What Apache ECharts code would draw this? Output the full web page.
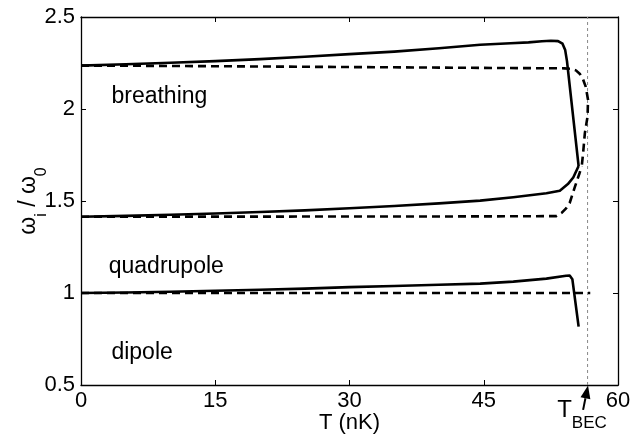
<!DOCTYPE html>
<html>
<head>
<meta charset="utf-8">
<script src="https://cdn.jsdelivr.net/npm/echarts@6/dist/echarts.min.js"></script>
<style>
html,body{margin:0;padding:0;background:#fff;}
#c{width:644px;height:439px;}
</style>
</head>
<body>
<div id="c"></div>
<script>
// ---- data (T in nK, frequency ratio omega_i / omega_0) ----
const xTicks = [0, 15, 30, 45, 60];
const yTicks = [0.5, 1, 1.5, 2, 2.5];
const T_BEC = 56.6;

const breathSolidT = [0, 5, 10, 15, 20, 25, 30, 35, 40, 44.6, 48, 50, 51.5, 52.5, 53.3, 53.8, 54.1, 54.3, 55.6];
const breathSolidV = [2.236, 2.243, 2.251, 2.260, 2.271, 2.284, 2.298, 2.312, 2.330, 2.349, 2.357, 2.362, 2.368, 2.371, 2.369, 2.355, 2.320, 2.260, 1.690];

const breathDashT = [0, 10, 20, 30, 40, 50, 54.0, 54.8, 55.3, 55.75, 56.1, 56.4, 56.65, 56.6, 56.3, 56.1, 55.95];
const breathDashV = [2.236, 2.234, 2.231, 2.228, 2.225, 2.222, 2.221, 2.218, 2.210, 2.190, 2.160, 2.120, 2.050, 1.960, 1.870, 1.760, 1.690];

const quadSolidT = [0, 5, 10, 15, 20, 25, 30, 35, 40, 44.6, 48.3, 52.0, 53.5, 54.4, 55.0, 55.6];
const quadSolidV = [1.414, 1.419, 1.425, 1.432, 1.440, 1.449, 1.461, 1.473, 1.487, 1.502, 1.520, 1.542, 1.556, 1.592, 1.628, 1.690];

const quadDashT = [0, 10, 20, 30, 40, 50, 53.1, 53.7, 54.2, 54.6, 55.2, 55.7, 55.95];
const quadDashV = [1.414, 1.415, 1.415, 1.416, 1.416, 1.417, 1.418, 1.435, 1.460, 1.489, 1.579, 1.651, 1.690];

const dipSolidT = [0, 5, 10, 15, 20, 25, 30, 35, 40, 44.6, 48.3, 52.0, 54.2, 54.6, 54.9, 55.6];
const dipSolidV = [1.000, 1.003, 1.007, 1.012, 1.018, 1.024, 1.032, 1.038, 1.045, 1.051, 1.062, 1.078, 1.094, 1.095, 1.075, 0.817];

const dipDashT = [0, 56.9];
const dipDashV = [1.0, 1.0];

const modeLabels = ['breathing', 'quadrupole', 'dipole'];
const modeLabelT = [3.4, 3.1, 3.4];
const modeLabelV = [2.068, 1.143, 0.678];

const arrowT = [56.1, 56.65];
const arrowV = [0.365, 0.497];
const tbecLabelPos = [53.2, 0.36];

// ---- build ----
const pairs = (xs, ys) => xs.map((x, i) => [x, ys[i]]);
const FONT = 'Liberation Sans, Arial, sans-serif';

function lineSeries(xs, ys, dashed) {
  return {
    type: 'line', data: pairs(xs, ys), showSymbol: false, symbol: 'none',
    smooth: false, silent: true, clip: false, animation: false,
    lineStyle: { color: '#000', width: 2.6, type: dashed ? [8, 5] : 'solid', cap: 'butt', join: 'round' },
    z: 3
  };
}

const chart = echarts.init(document.getElementById('c'), null, { renderer: 'canvas' });

const axisCommon = {
  type: 'value',
  axisLine: { show: true, onZero: false, lineStyle: { color: '#000', width: 1.3 } },
  axisTick: { show: true, inside: true, length: 5, lineStyle: { color: '#000', width: 1 } },
  splitLine: { show: false },
};

chart.setOption({
  animation: false,
  backgroundColor: '#fff',
  grid: { left: 81, right: 26, top: 17, bottom: 52, containLabel: false },
  xAxis: [
    Object.assign({}, axisCommon, {
      position: 'bottom', min: xTicks[0], max: xTicks[xTicks.length - 1], interval: xTicks[1] - xTicks[0],
      axisLabel: { show: true, color: '#000', fontSize: 22, fontFamily: FONT, margin: 5 },
      name: 'T (nK)', nameLocation: 'middle', nameGap: 27, nameMoveOverlap: false,
      nameTextStyle: { color: '#000', fontSize: 22, fontFamily: FONT }
    }),
    Object.assign({}, axisCommon, {
      position: 'top', min: xTicks[0], max: xTicks[xTicks.length - 1], interval: xTicks[1] - xTicks[0],
      axisLabel: { show: false }
    })
  ],
  yAxis: [
    Object.assign({}, axisCommon, {
      position: 'left', min: yTicks[0], max: yTicks[yTicks.length - 1], interval: yTicks[1] - yTicks[0],
      axisLabel: { show: true, color: '#000', fontSize: 22, fontFamily: FONT, margin: 6 },
      name: '{w|ω}{s|i}{w| / ω}{s|0}', nameLocation: 'middle', nameGap: 40, nameRotate: 90, nameMoveOverlap: false,
      nameTextStyle: {
        color: '#000', fontFamily: FONT,
        rich: {
          w: { fontSize: 23, fontFamily: FONT, color: '#000', lineHeight: 24, verticalAlign: 'top' },
          s: { fontSize: 16, fontFamily: FONT, color: '#000', lineHeight: 17, verticalAlign: 'top', padding: [17, 0, 0, 0] }
        }
      }
    }),
    Object.assign({}, axisCommon, {
      position: 'right', min: yTicks[0], max: yTicks[yTicks.length - 1], interval: yTicks[1] - yTicks[0],
      axisLabel: { show: false }
    })
  ],
  series: [
    // T_BEC dotted marker line
    {
      type: 'line', data: [[T_BEC, yTicks[0]], [T_BEC, yTicks[yTicks.length - 1]]],
      symbol: 'none', silent: true, z: 1,
      lineStyle: { color: '#888', width: 1, type: [3, 3] }
    },
    // arrow pointing at T_BEC
    {
      type: 'custom', silent: true, clip: false, z: 6,
      data: [[arrowT[0], arrowV[0], arrowT[1], arrowV[1]]],
      renderItem: function (params, api) {
        const p0 = api.coord([api.value(0), api.value(1)]);
        const p1 = api.coord([api.value(2), api.value(3)]);
        const dx = p1[0] - p0[0], dy = p1[1] - p0[1];
        const len = Math.sqrt(dx * dx + dy * dy);
        const ux = dx / len, uy = dy / len;
        const headL = 13, headW = 5;
        const bx = p1[0] - ux * headL, by = p1[1] - uy * headL;
        const nx = -uy, ny = ux;
        return {
          type: 'group',
          children: [
            { type: 'line', shape: { x1: p0[0], y1: p0[1], x2: bx, y2: by }, style: { stroke: '#000', lineWidth: 2 } },
            { type: 'polygon', shape: { points: [[p1[0], p1[1]], [bx + nx * headW, by + ny * headW], [bx - nx * headW, by - ny * headW]] }, style: { fill: '#000' } }
          ]
        };
      }
    },
    lineSeries(breathSolidT, breathSolidV, false),
    lineSeries(breathDashT, breathDashV, true),
    lineSeries(quadSolidT, quadSolidV, false),
    lineSeries(quadDashT, quadDashV, true),
    lineSeries(dipSolidT, dipSolidV, false),
    lineSeries(dipDashT, dipDashV, true),
    // mode labels
    {
      type: 'scatter', symbolSize: 0, silent: true, clip: false, z: 5,
      itemStyle: { opacity: 1 },
      data: modeLabels.map((n, i) => ({ name: n, value: [modeLabelT[i], modeLabelV[i]] })),
      label: { show: true, position: 'right', distance: 0, formatter: '{b}', color: '#000', opacity: 1, fontSize: 23, fontFamily: FONT }
    },
    // T_BEC label
    {
      type: 'scatter', symbolSize: 0, silent: true, clip: false, z: 5,
      itemStyle: { opacity: 1 },
      data: [{ name: 'TBEC', value: tbecLabelPos }],
      label: {
        show: true, position: 'right', distance: 0, formatter: '{t|T}{s|BEC}', opacity: 1,
        rich: {
          t: { fontSize: 24, fontFamily: FONT, color: '#000', lineHeight: 25, verticalAlign: 'top' },
          s: { fontSize: 17, fontFamily: FONT, color: '#000', lineHeight: 18, verticalAlign: 'top', padding: [17, 0, 0, 0] }
        }
      }
    }
  ]
});
</script>
</body>
</html>
